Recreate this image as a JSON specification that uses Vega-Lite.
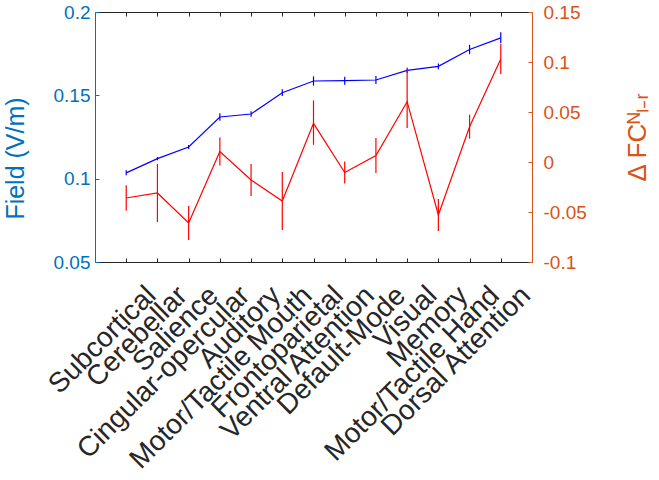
{
  "$schema": "https://vega.github.io/schema/vega-lite/v6.json",
  "width": 437,
  "height": 250,
  "autosize": {"type": "none"},
  "padding": {"left": 95, "top": 12, "right": 127, "bottom": 218},
  "config": {
    "view": {"stroke": null},
    "font": "Liberation Sans",
    "axis": {"grid": false, "labelFont": "Liberation Sans", "titleFont": "Liberation Sans", "titleFontWeight": "normal"}
  },
  "data": {
    "values": [
      {"network": "Subcortical", "field": 0.1035, "field_lo": 0.102, "field_hi": 0.105, "dfc": -0.036, "dfc_lo": -0.0487, "dfc_hi": -0.0233},
      {"network": "Cerebellar", "field": 0.112, "field_lo": 0.111, "field_hi": 0.113, "dfc": -0.031, "dfc_lo": -0.06, "dfc_hi": -0.002},
      {"network": "Salience", "field": 0.119, "field_lo": 0.1178, "field_hi": 0.1202, "dfc": -0.061, "dfc_lo": -0.078, "dfc_hi": -0.044},
      {"network": "Cingular-opercular", "field": 0.137, "field_lo": 0.1348, "field_hi": 0.1392, "dfc": 0.0105, "dfc_lo": -0.0035, "dfc_hi": 0.0245},
      {"network": "Auditory", "field": 0.1388, "field_lo": 0.1371, "field_hi": 0.1405, "dfc": -0.018, "dfc_lo": -0.034, "dfc_hi": -0.002},
      {"network": "Motor/Tactile Mouth", "field": 0.1516, "field_lo": 0.1496, "field_hi": 0.1536, "dfc": -0.039, "dfc_lo": -0.068, "dfc_hi": -0.01},
      {"network": "Frontoparietal", "field": 0.1586, "field_lo": 0.1558, "field_hi": 0.1614, "dfc": 0.0386, "dfc_lo": 0.0172, "dfc_hi": 0.0616},
      {"network": "Ventral Attention", "field": 0.1588, "field_lo": 0.1564, "field_hi": 0.1612, "dfc": -0.0105, "dfc_lo": -0.0215, "dfc_hi": 0.0005},
      {"network": "Default-Mode", "field": 0.1592, "field_lo": 0.1568, "field_hi": 0.1616, "dfc": 0.0065, "dfc_lo": -0.011, "dfc_hi": 0.024},
      {"network": "Visual", "field": 0.165, "field_lo": 0.1634, "field_hi": 0.1666, "dfc": 0.0603, "dfc_lo": 0.034, "dfc_hi": 0.092},
      {"network": "Memory", "field": 0.1674, "field_lo": 0.1657, "field_hi": 0.1691, "dfc": -0.053, "dfc_lo": -0.069, "dfc_hi": -0.037},
      {"network": "Motor/Tactile Hand", "field": 0.1775, "field_lo": 0.1747, "field_hi": 0.1803, "dfc": 0.0353, "dfc_lo": 0.0233, "dfc_hi": 0.0473},
      {"network": "Dorsal Attention", "field": 0.1845, "field_lo": 0.1812, "field_hi": 0.1878, "dfc": 0.103, "dfc_lo": 0.088, "dfc_hi": 0.118}
    ]
  },
  "layer": [
    {
      "encoding": {
        "x": {
          "field": "network", "type": "nominal", "sort": null,
          "scale": {"type": "point", "padding": 1},
          "axis": {
            "orient": "bottom", "title": null,
            "domainColor": "#262626", "tickColor": "#262626", "tickSize": -4,
            "labelAngle": -45, "labelAlign": "right", "labelBaseline": "middle",
            "labelFontSize": 28, "labelColor": "#262626", "labelLimit": 0,
            "labelPadding": 33, "labelOffset": 25, "labelOverlap": false, "labelBound": false
          }
        }
      },
      "layer": [
        {
          "mark": {"type": "line", "color": "#0000FF", "strokeWidth": 1.2},
          "encoding": {
            "y": {
              "field": "field", "type": "quantitative",
              "scale": {"domain": [0.05, 0.2], "nice": false, "zero": false},
              "axis": {
                "orient": "left", "title": "Field (V/m)", "values": [0.05, 0.1, 0.15, 0.2], "format": ".2~f",
                "domainColor": "#0072BD", "tickColor": "#0072BD", "labelColor": "#0072BD", "titleColor": "#0072BD",
                "tickSize": -4, "labelPadding": 9, "labelFontSize": 19, "titleFontSize": 25, "titlePadding": 25, "titleY": 146
              }
            }
          }
        },
        {
          "mark": {"type": "rule", "color": "#0000FF", "strokeWidth": 1.2},
          "encoding": {
            "y": {
              "field": "field_lo", "type": "quantitative",
              "scale": {"domain": [0.05, 0.2], "nice": false, "zero": false},
              "axis": {
                "orient": "left", "title": "Field (V/m)", "values": [0.05, 0.1, 0.15, 0.2], "format": ".2~f",
                "domainColor": "#0072BD", "tickColor": "#0072BD", "labelColor": "#0072BD", "titleColor": "#0072BD",
                "tickSize": -4, "labelPadding": 9, "labelFontSize": 19, "titleFontSize": 25, "titlePadding": 25, "titleY": 146
              }
            },
            "y2": {"field": "field_hi"}
          }
        }
      ]
    },
    {
      "encoding": {
        "x": {
          "field": "network", "type": "nominal", "sort": null,
          "scale": {"type": "point", "padding": 1},
          "axis": {
            "orient": "top", "title": null, "labels": false,
            "domainColor": "#262626", "tickColor": "#262626", "tickSize": -4
          }
        }
      },
      "layer": [
        {
          "mark": {"type": "line", "color": "#FF0000", "strokeWidth": 1.2},
          "encoding": {
            "y": {
              "field": "dfc", "type": "quantitative",
              "scale": {"domain": [-0.1, 0.15], "nice": false, "zero": false},
              "axis": {
                "orient": "right", "title": "Δ FCᴺₗ₋ᵣ", "values": [-0.1, -0.05, 0, 0.05, 0.1, 0.15],
                "labelExpr": "replace(format(datum.value, '.2~f'), '−', '-')",
                "domainColor": "#D95319", "tickColor": "#D95319", "labelColor": "#D95319", "titleColor": "#D95319",
                "tickSize": -4, "labelPadding": 15, "labelFontSize": 19, "titleFontSize": 26, "titlePadding": 64, "titleAngle": 270
              }
            }
          }
        },
        {
          "mark": {"type": "rule", "color": "#FF0000", "strokeWidth": 1.2},
          "encoding": {
            "y": {
              "field": "dfc_lo", "type": "quantitative",
              "scale": {"domain": [-0.1, 0.15], "nice": false, "zero": false},
              "axis": {
                "orient": "right", "title": "Δ FCᴺₗ₋ᵣ", "values": [-0.1, -0.05, 0, 0.05, 0.1, 0.15],
                "labelExpr": "replace(format(datum.value, '.2~f'), '−', '-')",
                "domainColor": "#D95319", "tickColor": "#D95319", "labelColor": "#D95319", "titleColor": "#D95319",
                "tickSize": -4, "labelPadding": 15, "labelFontSize": 19, "titleFontSize": 26, "titlePadding": 64, "titleAngle": 270
              }
            },
            "y2": {"field": "dfc_hi"}
          }
        }
      ]
    }
  ],
  "resolve": {"scale": {"y": "independent"}, "axis": {"x": "independent", "y": "independent"}}
}
